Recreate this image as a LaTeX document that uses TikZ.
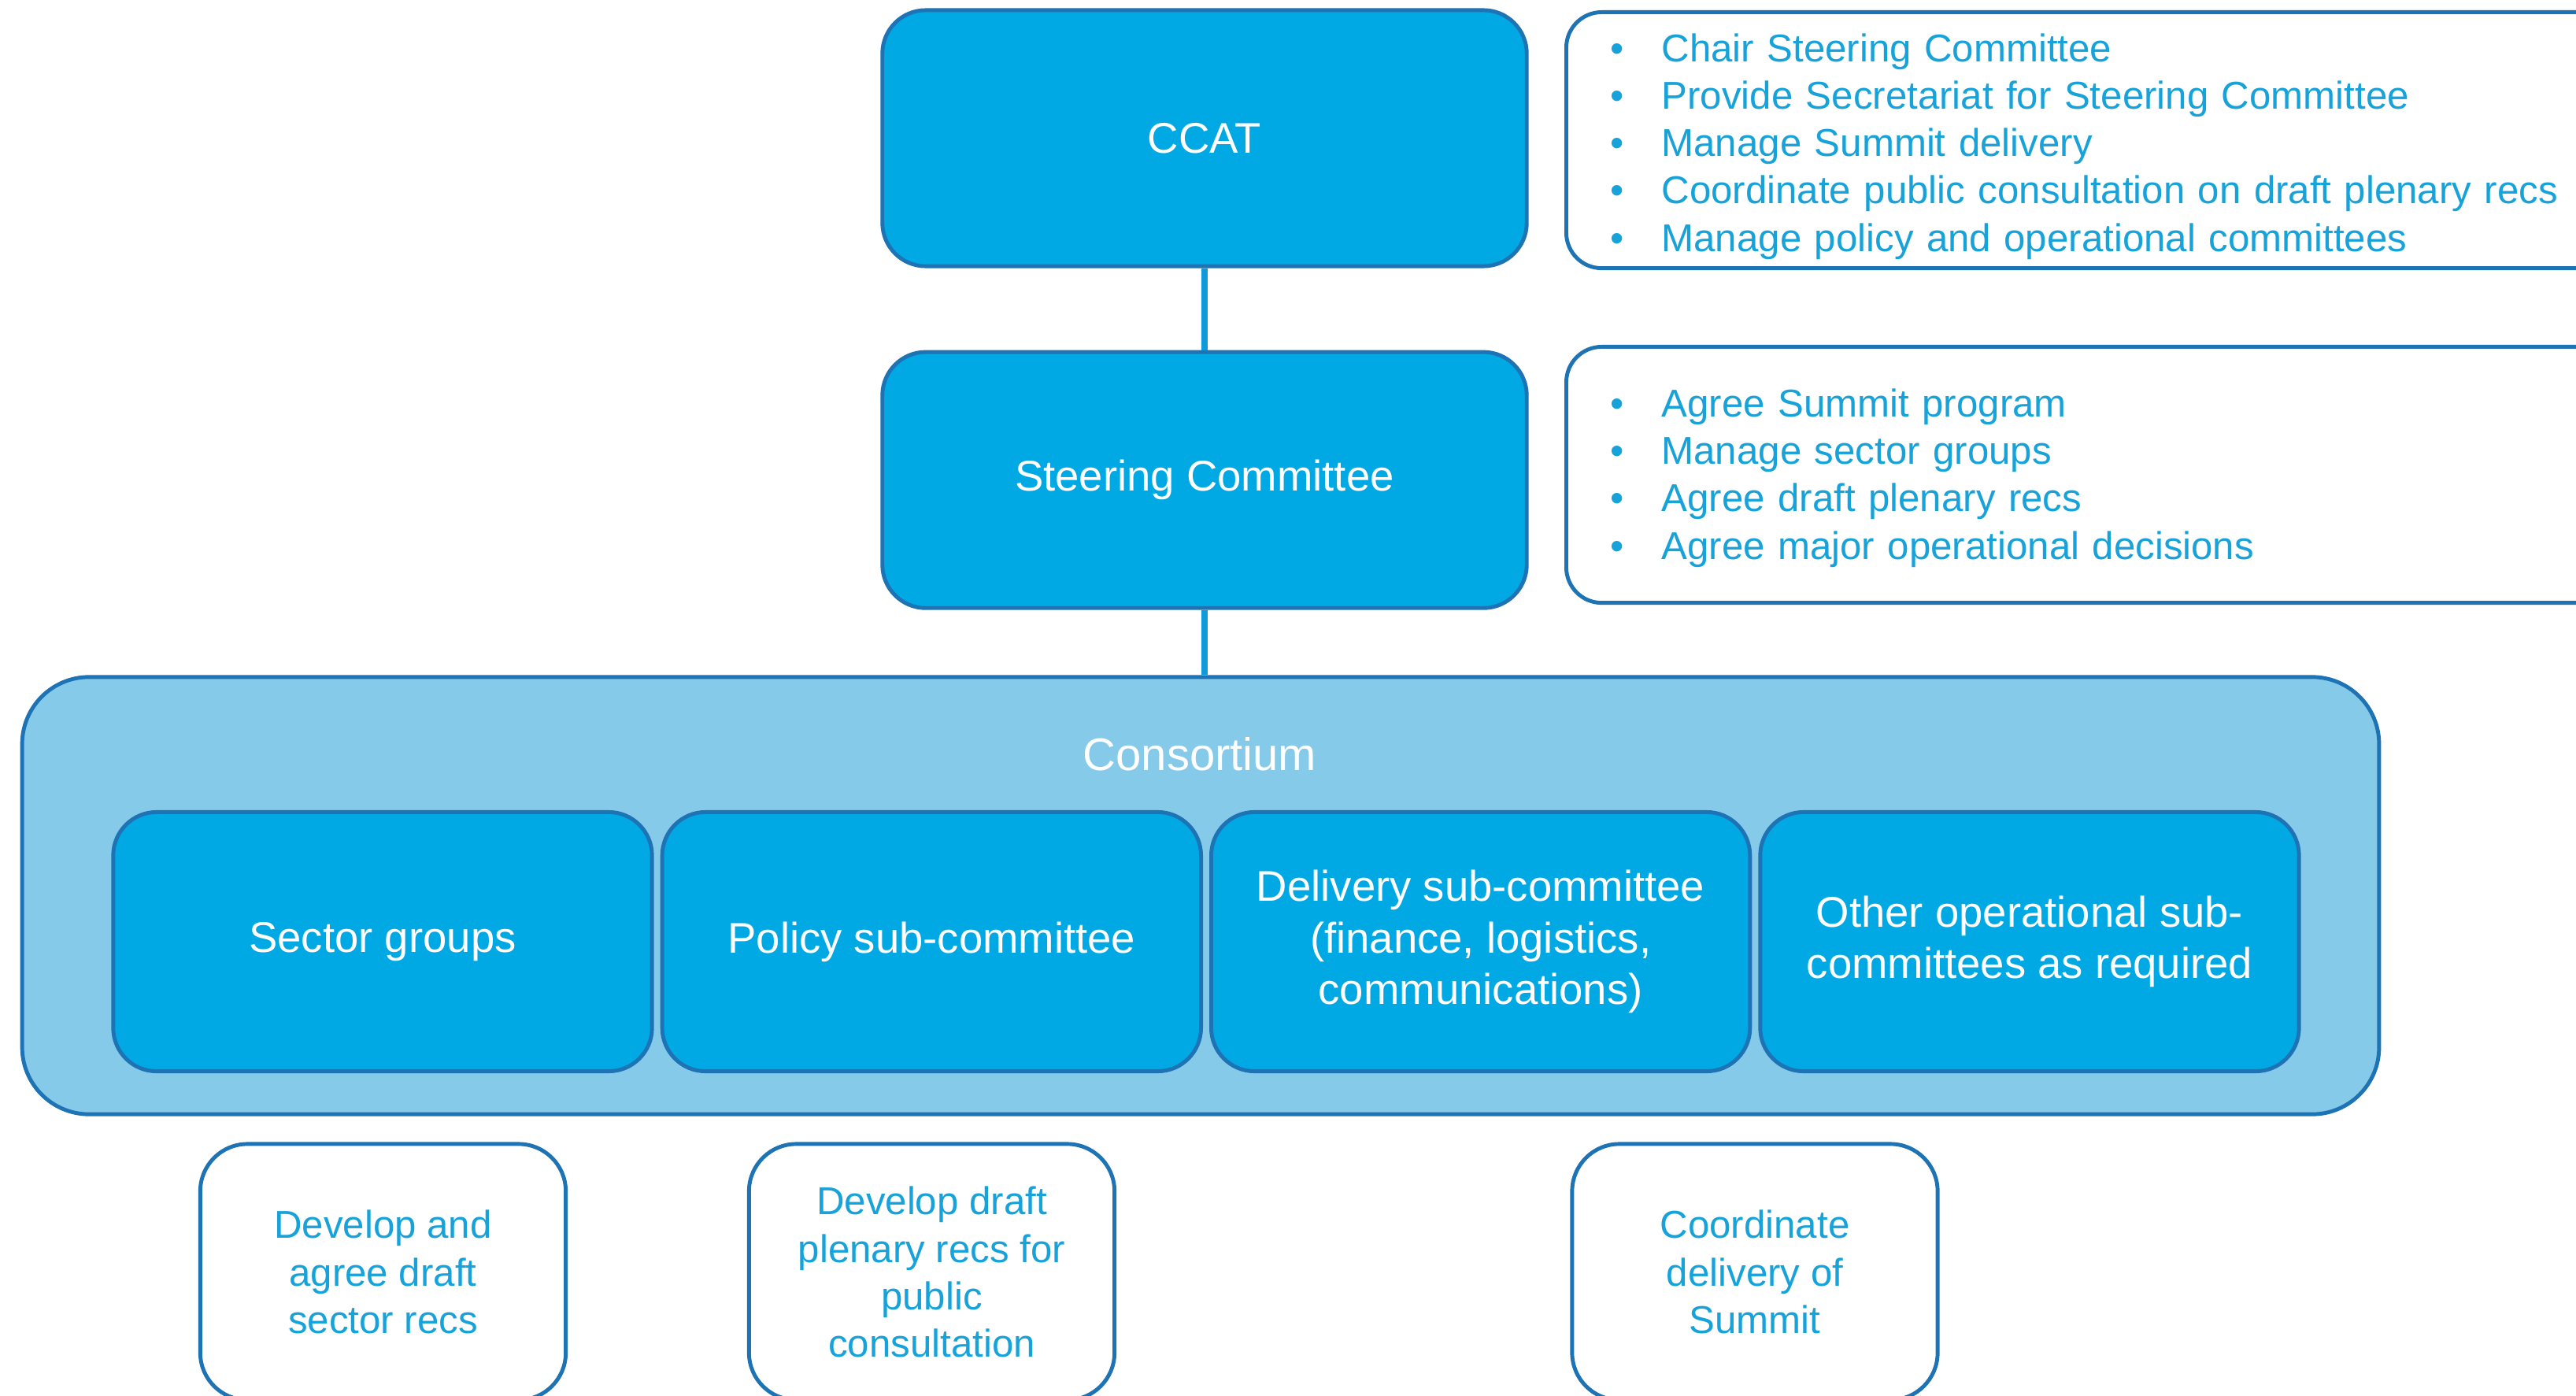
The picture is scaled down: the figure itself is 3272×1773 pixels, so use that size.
\documentclass[tikz,border=0pt]{standalone}
\usepackage{fontspec}
\setmainfont{Liberation Sans}
\usepackage{tikz}
\usetikzlibrary{positioning}
\definecolor{boxblue}{HTML}{00A8E4}
\definecolor{edgeblue}{HTML}{1E73B4}
\definecolor{paleblue}{HTML}{86CAEA}
\definecolor{textblue}{HTML}{17A2DA}
\definecolor{linkblue}{HTML}{0E9ADB}
\newcommand{\bul}{\makebox[0.65cm][l]{\textbullet}}

\begin{document}
\begin{tikzpicture}[x=0.01cm,y=-0.01cm,
  unit/.style={draw=edgeblue,line width=1.4pt,rounded corners=0.55cm,fill=boxblue,text=white,align=center,minimum width=8.18cm,minimum height=3.25cm,font=\fontsize{15.5}{18.7}\selectfont},
  subunit/.style={unit,minimum width=6.84cm,minimum height=3.29cm},
  consbox/.style={draw=edgeblue,line width=1.4pt,rounded corners=0.85cm,fill=paleblue,minimum width=29.92cm,minimum height=5.55cm},
  notes/.style={draw=edgeblue,line width=1.4pt,rounded corners=0.45cm,fill=white,text=textblue,align=left,text width=12.5cm,inner xsep=0.56cm,inner ysep=0pt,minimum height=3.25cm,font=\fontsize{14}{17.1}\selectfont},
  task/.style={draw=edgeblue,line width=1.4pt,rounded corners=0.6cm,fill=white,text=textblue,align=center,minimum width=4.64cm,minimum height=3.25cm,font=\fontsize{14}{17.1}\selectfont},
  link/.style={draw=linkblue,line width=2.5pt}]
  \useasboundingbox[fill=white] (0,0) rectangle (3272,1773);
  % top of the chain
  \node[unit] (ccat) at (1530,175.5) {CCAT};
  \node[unit,below=1.04cm of ccat] (steer) {Steering Committee};
  \node[notes,anchor=north west] (ccatnotes) at (1987,13) {\rule{0pt}{14.7pt}\bul Chair Steering Committee\\\bul Provide Secretariat for Steering Committee\\\bul Manage Summit delivery\\\bul Coordinate public consultation on draft plenary recs\\\bul Manage policy and operational committees};
  \node[notes,anchor=north west] (steernotes) at (1987,438) {\rule{0pt}{12.5pt}\bul Agree Summit program\\\bul Manage sector groups\\\bul Agree draft plenary recs\\\bul Agree major operational decisions};
  % consortium and its groups
  \node[consbox] (cons) at (1525,1137.5) {};
  \node[text=white,font=\fontsize{16.5}{19}\selectfont] (constitle) at (1524,958) {Consortium};
  \node[subunit] (sector) at (486,1196) {Sector groups};
  \node[subunit,right=0.08cm of sector] (policy) {Policy sub-committee};
  \node[subunit,right=0.08cm of policy] (delivery) {Delivery sub-committee\\(finance, logistics,\\communications)};
  \node[subunit,right=0.08cm of delivery] (other) {Other operational sub-\\committees as required};
  % tasks below
  \node[task] (sectortask) at (486.5,1615.5) {Develop and\\agree draft\\sector recs};
  \node[task] (policytask) at (1183.5,1615.5) {Develop draft\\plenary recs for\\public\\consultation};
  \node[task] (deliverytask) at (2229,1615.5) {Coordinate\\delivery of\\Summit};
  \draw[link] (ccat) -- (steer);
  \draw[link] (steer.south) -- (steer.south |- cons.north);
\end{tikzpicture}
\end{document}
